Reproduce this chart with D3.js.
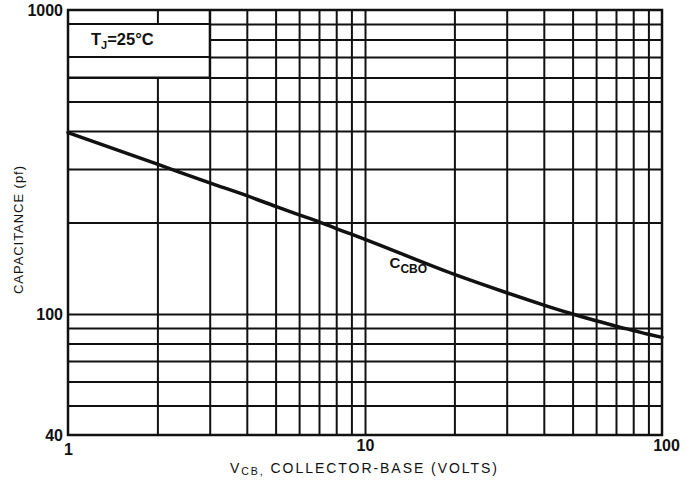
<!DOCTYPE html>
<html>
<head>
<meta charset="utf-8">
<script src="https://cdn.jsdelivr.net/npm/d3@7"></script>
<style>
  html, body { margin: 0; padding: 0; background: #fff; }
  svg { display: block; }
  text { font-family: "Liberation Sans", Arial, sans-serif; fill: #111; }
</style>
</head>
<body>
<script>
// ---- data ----
const vcb   = [1, 2, 3, 4, 5, 6, 7, 8, 9, 10, 20, 30, 40, 50, 60, 70, 80, 90, 100];
const ccbo  = [395, 311, 270, 245, 226, 212, 201, 191, 183, 176, 135, 117.5, 107, 100, 95, 91.2, 88.3, 85.8, 83.8];
const xGridValues = [2, 3, 4, 5, 6, 7, 8, 9, 10, 20, 30, 40, 50, 60, 70, 80, 90];
const yGridValues = [50, 60, 70, 80, 90, 100, 200, 300, 400, 500, 600, 700, 800, 900];
const xTickValues = [1, 10, 100];
const xTickLabels = ["1", "10", "100"];
const yTickValues = [40, 100, 1000];
const yTickLabels = ["40", "100", "1000"];

const W = 694, H = 486;
const m = { left: 68, right: 32, top: 10, bottom: 51 };
const iw = W - m.left - m.right, ih = H - m.top - m.bottom;

const svg = d3.select("body").append("svg").attr("width", W).attr("height", H);
const g = svg.append("g").attr("transform", `translate(${m.left},${m.top})`);

const x = d3.scaleLog().domain([1, 100]).range([0, iw]);
const y = d3.scaleLog().domain([40, 1000]).range([ih, 0]);

const ink = "#111";

// vertical grid
const xg = g.append("g").attr("transform", `translate(0,${ih})`)
  .call(d3.axisBottom(x).tickValues(xGridValues).tickSize(-ih).tickFormat(""));
xg.select(".domain").remove();
xg.selectAll("line").attr("stroke", ink).attr("stroke-width", 2);

// horizontal grid
const yg = g.append("g")
  .call(d3.axisLeft(y).tickValues(yGridValues).tickSize(-iw).tickFormat(""));
yg.select(".domain").remove();
yg.selectAll("line").attr("stroke", ink).attr("stroke-width", 2);

// label box (white) covering the grid
g.append("rect")
  .attr("x", x(1)).attr("y", y(900))
  .attr("width", x(3) - x(1)).attr("height", y(600) - y(900))
  .attr("fill", "#fff");
[900, 700, 600].forEach(v => {
  g.append("line").attr("x1", 0).attr("x2", x(3)).attr("y1", y(v)).attr("y2", y(v))
    .attr("stroke", ink).attr("stroke-width", 2);
});
g.append("line").attr("x1", x(3)).attr("x2", x(3)).attr("y1", y(1000)).attr("y2", y(600))
  .attr("stroke", ink).attr("stroke-width", 2);

const tj = g.append("text").attr("x", 23).attr("y", 35)
  .attr("font-size", 16.5).attr("font-weight", "bold");
tj.append("tspan").text("T");
tj.append("tspan").attr("font-size", 11).attr("dy", 4).text("J");
tj.append("tspan").attr("dy", -4).text("=25°C");

// frame
g.append("rect").attr("x", 0).attr("y", 0).attr("width", iw).attr("height", ih)
  .attr("fill", "none").attr("stroke", ink).attr("stroke-width", 2.5);

// curve
const line = d3.line().x((d, i) => x(vcb[i])).y(d => y(d)).curve(d3.curveMonotoneX);
g.append("path").datum(ccbo).attr("d", line)
  .attr("fill", "none").attr("stroke", ink).attr("stroke-width", 3.5)
  .attr("stroke-linejoin", "round").attr("stroke-linecap", "round");

// curve label
const cl = g.append("text").attr("x", x(12.1)).attr("y", 258).attr("font-size", 15).attr("font-weight", "bold");
cl.append("tspan").text("C");
cl.append("tspan").attr("font-size", 12).attr("dy", 5).text("CBO");

// x tick labels
const xa = g.append("g").attr("transform", `translate(0,${ih})`)
  .call(d3.axisBottom(x).tickValues(xTickValues).tickSize(0).tickPadding(5)
    .tickFormat((d, i) => xTickLabels[i]));
xa.select(".domain").remove();
xa.selectAll("text").attr("font-size", 16).attr("font-weight", "bold")
  .attr("font-family", "'Liberation Sans', Arial, sans-serif").attr("fill", ink);
xa.selectAll("text").filter(d => d === 1).attr("dy", "0.95em");
xa.selectAll("text").filter(d => d === 100).attr("dx", 4);

// y tick labels
const ya = g.append("g")
  .call(d3.axisLeft(y).tickValues(yTickValues).tickSize(0).tickPadding(5)
    .tickFormat((d, i) => yTickLabels[i]));
ya.select(".domain").remove();
ya.selectAll("text").attr("font-size", 16).attr("font-weight", "bold")
  .attr("font-family", "'Liberation Sans', Arial, sans-serif").attr("fill", ink);

// axis titles
const xt = svg.append("text").attr("x", 230).attr("y", 473).attr("font-size", 14);
xt.append("tspan").text("V");
xt.append("tspan").attr("font-size", 10.5).attr("dy", 2).text("CB,");
xt.append("tspan").attr("dy", -2).text(" COLLECTOR-BASE (VOLTS)");
xt.attr("textLength", 267).attr("lengthAdjust", "spacing");

svg.append("text")
  .attr("transform", `translate(23,${230}) rotate(-90)`)
  .attr("text-anchor", "middle").attr("font-size", 13)
  .attr("textLength", 128).attr("lengthAdjust", "spacing")
  .text("CAPACITANCE (pf)");
</script>
</body>
</html>
